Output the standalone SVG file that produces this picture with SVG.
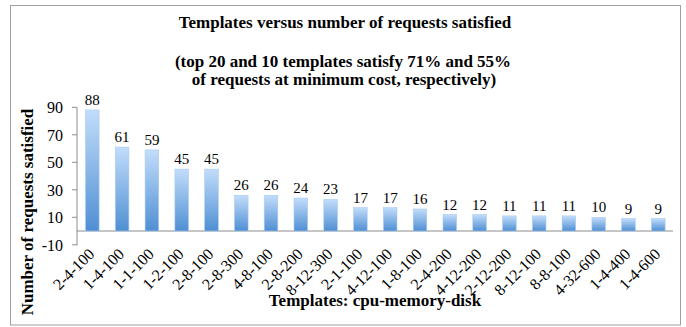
<svg xmlns="http://www.w3.org/2000/svg" width="686" height="327" viewBox="0 0 686 327" font-family="'Liberation Serif', serif">
<defs>
<linearGradient id="bar" x1="0" y1="0" x2="0" y2="1">
<stop offset="0" stop-color="#c2ddfb"/>
<stop offset="1" stop-color="#4f8fd3"/>
</linearGradient>
<style>
text{font-family:'Liberation Serif',serif;fill:#000}
.t{font-weight:bold;font-size:17px;text-anchor:middle}
.tk{font-size:16px;text-anchor:end}
.v{font-size:15px;text-anchor:middle}
.c{font-size:16px;text-anchor:end}
.b{fill:url(#bar);stroke:#a9cbf0;stroke-width:0.6}
.ax{stroke:#8c8c8c;stroke-width:1;fill:none}
</style>
</defs>
<rect x="10.5" y="5.5" width="670" height="319.5" fill="#fff" stroke="#a0a0a0" stroke-width="1"/>
<g id="titles">
<text class="t" x="345" y="28">Templates versus number of requests satisfied</text>
<text class="t" x="343" y="67">(top 20 and 10 templates satisfy 71% and 55%</text>
<text class="t" x="344" y="85">of requests at minimum cost, respectively)</text>
<text class="t" x="375" y="306">Templates: cpu-memory-disk</text>
<text class="t" transform="translate(33,212) rotate(-90)">Number of requests satisfied</text>
</g>
<g id="axes">
<path class="ax" d="M77 107.3V245.3M72 107.3H77M72 134.8H77M72 162.3H77M72 189.8H77M72 217.3H77M72 244.8H77M77 231H673"/>
<text class="tk" x="63" y="113">90</text>
<text class="tk" x="63" y="140.5">70</text>
<text class="tk" x="63" y="168">50</text>
<text class="tk" x="63" y="195.5">30</text>
<text class="tk" x="63" y="223">10</text>
<text class="tk" x="63" y="250.5">-10</text>
</g>
<g id="bars">
<rect class="b" x="85.5" y="110" width="13.6" height="121"/>
<rect class="b" x="115.3" y="147.1" width="13.6" height="83.9"/>
<rect class="b" x="145.1" y="149.9" width="13.6" height="81.1"/>
<rect class="b" x="174.9" y="169.1" width="13.6" height="61.9"/>
<rect class="b" x="204.7" y="169.1" width="13.6" height="61.9"/>
<rect class="b" x="234.5" y="195.3" width="13.6" height="35.7"/>
<rect class="b" x="264.2" y="195.3" width="13.6" height="35.7"/>
<rect class="b" x="294" y="198" width="13.6" height="33"/>
<rect class="b" x="323.8" y="199.4" width="13.6" height="31.6"/>
<rect class="b" x="353.6" y="207.6" width="13.6" height="23.4"/>
<rect class="b" x="383.4" y="207.6" width="13.6" height="23.4"/>
<rect class="b" x="413.2" y="209" width="13.6" height="22"/>
<rect class="b" x="443" y="214.5" width="13.6" height="16.5"/>
<rect class="b" x="472.8" y="214.5" width="13.6" height="16.5"/>
<rect class="b" x="502.6" y="215.9" width="13.6" height="15.1"/>
<rect class="b" x="532.4" y="215.9" width="13.6" height="15.1"/>
<rect class="b" x="562.1" y="215.9" width="13.6" height="15.1"/>
<rect class="b" x="591.9" y="217.3" width="13.6" height="13.7"/>
<rect class="b" x="621.7" y="218.6" width="13.6" height="12.4"/>
<rect class="b" x="651.5" y="218.6" width="13.6" height="12.4"/>
</g>
<g id="values">
<text class="v" x="92.3" y="105">88</text>
<text class="v" x="122.1" y="142.1">61</text>
<text class="v" x="151.9" y="144.9">59</text>
<text class="v" x="181.7" y="164.1">45</text>
<text class="v" x="211.5" y="164.1">45</text>
<text class="v" x="241.3" y="190.3">26</text>
<text class="v" x="271" y="190.3">26</text>
<text class="v" x="300.8" y="193">24</text>
<text class="v" x="330.6" y="194.4">23</text>
<text class="v" x="360.4" y="202.6">17</text>
<text class="v" x="390.2" y="202.6">17</text>
<text class="v" x="420" y="204">16</text>
<text class="v" x="449.8" y="209.5">12</text>
<text class="v" x="479.6" y="209.5">12</text>
<text class="v" x="509.4" y="210.9">11</text>
<text class="v" x="539.2" y="210.9">11</text>
<text class="v" x="568.9" y="210.9">11</text>
<text class="v" x="598.7" y="212.3">10</text>
<text class="v" x="628.5" y="213.6">9</text>
<text class="v" x="658.3" y="213.6">9</text>
</g>
<g id="categories">
<text class="c" transform="translate(95.3,255) rotate(-45)">2-4-100</text>
<text class="c" transform="translate(125.1,255) rotate(-45)">1-4-100</text>
<text class="c" transform="translate(154.9,255) rotate(-45)">1-1-100</text>
<text class="c" transform="translate(184.7,255) rotate(-45)">1-2-100</text>
<text class="c" transform="translate(214.5,255) rotate(-45)">2-8-100</text>
<text class="c" transform="translate(244.3,255) rotate(-45)">2-8-300</text>
<text class="c" transform="translate(274,255) rotate(-45)">4-8-100</text>
<text class="c" transform="translate(303.8,255) rotate(-45)">2-8-200</text>
<text class="c" transform="translate(333.6,255) rotate(-45)">8-12-300</text>
<text class="c" transform="translate(363.4,255) rotate(-45)">2-1-100</text>
<text class="c" transform="translate(393.2,255) rotate(-45)">4-12-100</text>
<text class="c" transform="translate(423,255) rotate(-45)">1-8-100</text>
<text class="c" transform="translate(452.8,255) rotate(-45)">2-4-200</text>
<text class="c" transform="translate(482.6,255) rotate(-45)">4-12-200</text>
<text class="c" transform="translate(512.4,255) rotate(-45)">2-12-200</text>
<text class="c" transform="translate(542.2,255) rotate(-45)">8-12-100</text>
<text class="c" transform="translate(571.9,255) rotate(-45)">8-8-100</text>
<text class="c" transform="translate(601.7,255) rotate(-45)">4-32-600</text>
<text class="c" transform="translate(631.5,255) rotate(-45)">1-4-400</text>
<text class="c" transform="translate(661.3,255) rotate(-45)">1-4-600</text>
</g>
</svg>
